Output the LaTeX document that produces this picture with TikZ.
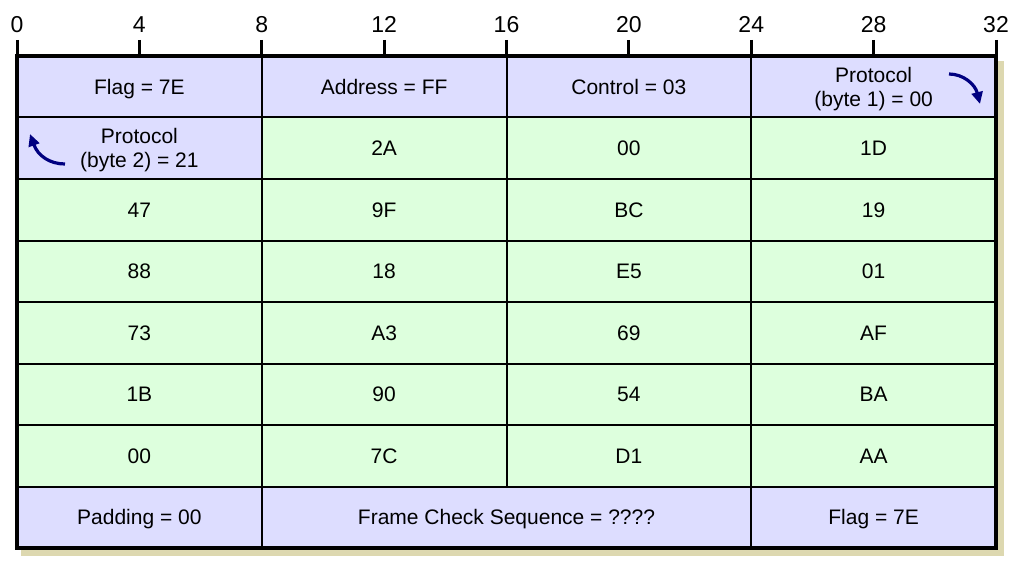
\documentclass[tikz,border=0pt]{standalone}
\usepackage{fontspec}
\setmainfont{Liberation Sans}
\usetikzlibrary{arrows.meta}
\definecolor{lav}{RGB}{221,221,255}
\definecolor{mint}{RGB}{221,255,221}
\definecolor{shadowcol}{RGB}{221,216,176}
\definecolor{navy}{RGB}{0,0,128}
\newcommand{\bitw}{30.59375}
\newcommand{\rowh}{61.5}
\newcommand{\mkcell}[6]{%
  \node[cellbox, oneline, fill=#5, minimum width={#3*\bitw pt}]
    (#1) at ({17+\bitw*(#2+#3/2)}, {56+\rowh*(#4+0.5)}) {#6};}
\newcommand{\mktwocell}[6]{%
  \node[cellbox, fill=#5, minimum width={#3*\bitw pt}]
    (#1) at ({17+\bitw*(#2+#3/2)}, {56+\rowh*(#4+0.5)}) {#6};}
\begin{document}
\begin{tikzpicture}[x=1pt, y=-1pt,
  cellbox/.style={draw=black, line width=2pt, inner sep=0pt, minimum height=61.5pt,
    font=\fontsize{21}{24}\selectfont, align=center, text=black, text depth=0pt},
  oneline/.style={text height=15pt},
  ticklabel/.style={font=\fontsize{23}{26}\selectfont, inner sep=0pt, anchor=base},
  tickline/.style={line width=3pt},
  curvearrow/.style={draw=navy, line width=3.2pt, -{Triangle[length=12pt,width=11pt]}}]
\useasboundingbox (0,0) rectangle (1016,564);
% shadow
\fill[fill=shadowcol] (21,61) rectangle (1004,556);
% row 0
\mkcell{flagA}{0}{8}{0}{lav}{Flag = 7E}
\mkcell{addr}{8}{8}{0}{lav}{Address = FF}
\mkcell{ctrl}{16}{8}{0}{lav}{Control = 03}
\mktwocell{protA}{24}{8}{0}{lav}{Protocol\\(byte 1) = 00}
% row 1
\mktwocell{protB}{0}{8}{1}{lav}{Protocol\\(byte 2) = 21}
\mkcell{b11}{8}{8}{1}{mint}{2A}
\mkcell{b12}{16}{8}{1}{mint}{00}
\mkcell{b13}{24}{8}{1}{mint}{1D}
% row 2
\mkcell{b20}{0}{8}{2}{mint}{47}
\mkcell{b21}{8}{8}{2}{mint}{9F}
\mkcell{b22}{16}{8}{2}{mint}{BC}
\mkcell{b23}{24}{8}{2}{mint}{19}
% row 3
\mkcell{b30}{0}{8}{3}{mint}{88}
\mkcell{b31}{8}{8}{3}{mint}{18}
\mkcell{b32}{16}{8}{3}{mint}{E5}
\mkcell{b33}{24}{8}{3}{mint}{01}
% row 4
\mkcell{b40}{0}{8}{4}{mint}{73}
\mkcell{b41}{8}{8}{4}{mint}{A3}
\mkcell{b42}{16}{8}{4}{mint}{69}
\mkcell{b43}{24}{8}{4}{mint}{AF}
% row 5
\mkcell{b50}{0}{8}{5}{mint}{1B}
\mkcell{b51}{8}{8}{5}{mint}{90}
\mkcell{b52}{16}{8}{5}{mint}{54}
\mkcell{b53}{24}{8}{5}{mint}{BA}
% row 6
\mkcell{b60}{0}{8}{6}{mint}{00}
\mkcell{b61}{8}{8}{6}{mint}{7C}
\mkcell{b62}{16}{8}{6}{mint}{D1}
\mkcell{b63}{24}{8}{6}{mint}{AA}
% row 7
\mkcell{pad}{0}{8}{7}{lav}{Padding = 00}
\mkcell{fcs}{8}{16}{7}{lav}{Frame Check Sequence = ????}
\mkcell{flagB}{24}{8}{7}{lav}{Flag = 7E}
% outer frame
\draw[line width=4pt] (17,56) rectangle (996,548);
% ruler
\foreach \k in {0,4,...,32} {
  \draw[tickline] ({17+\bitw*\k},40) -- ({17+\bitw*\k},56);
  \node[ticklabel] (t\k) at ({17+\bitw*\k},33) {\k};
}
% arrows
\coordinate (a1s) at (949,74);
\coordinate (a1e) at (980,104);
\draw[curvearrow] (a1s) .. controls (963,74) and (975,84) .. (a1e);
\coordinate (a2s) at (65,164);
\coordinate (a2e) at (30,134);
\draw[curvearrow] (a2s) .. controls (50,164) and (38,156) .. (a2e);
\end{tikzpicture}
\end{document}
